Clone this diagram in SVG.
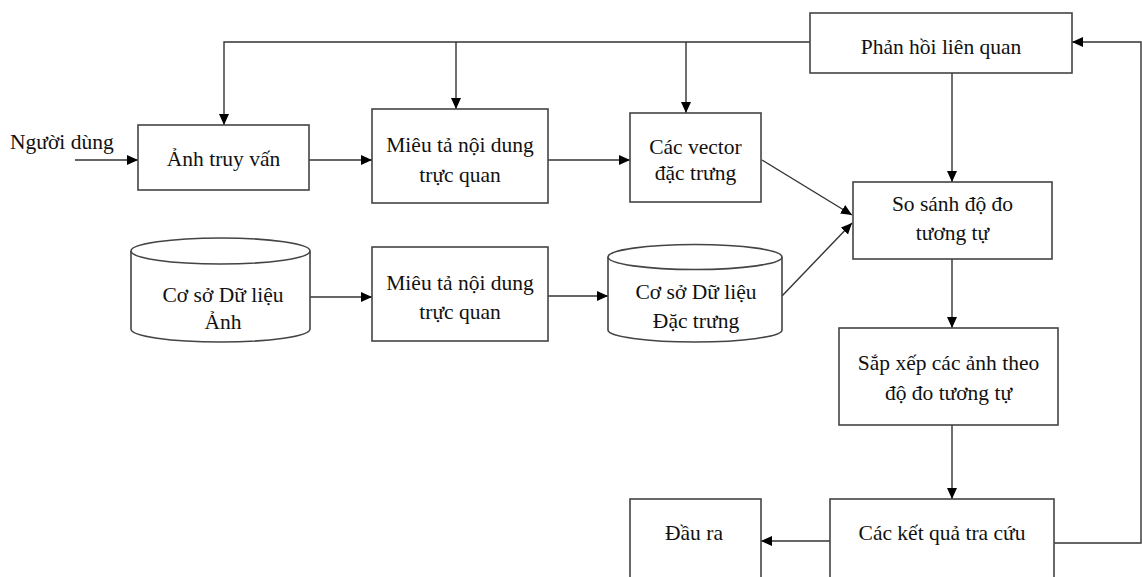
<svg xmlns="http://www.w3.org/2000/svg" width="1142" height="577" viewBox="0 0 1142 577">
<style>
.box{fill:#fff;stroke:#444;stroke-width:1.6}
.cyl{fill:#fff;stroke:#444;stroke-width:1.6}
.t{font-family:"Liberation Serif","Times New Roman",serif;font-size:21.5px;fill:#111;text-anchor:middle}
.tl{font-family:"Liberation Serif","Times New Roman",serif;font-size:21.5px;fill:#111}
.c{fill:none;stroke:#333;stroke-width:1.4}
</style>
<defs>
<marker id="ah" markerUnits="userSpaceOnUse" markerWidth="12" markerHeight="11" refX="11" refY="5" orient="auto">
<path d="M0,0 L11,5 L0,10 z" fill="#000"/>
</marker>
</defs>
<rect width="1142" height="577" fill="#fff"/>
<g id="connectors">
<line class="c" x1="75" y1="160" x2="138" y2="160" marker-end="url(#ah)"/>
<line class="c" x1="309" y1="160" x2="372" y2="160" marker-end="url(#ah)"/>
<line class="c" x1="548" y1="160" x2="630" y2="160" marker-end="url(#ah)"/>
<polyline class="c" points="810,42 224,42 224,125" marker-end="url(#ah)"/>
<line class="c" x1="456" y1="42" x2="456" y2="109" marker-end="url(#ah)"/>
<line class="c" x1="686" y1="42" x2="686" y2="113" marker-end="url(#ah)"/>
<line class="c" x1="952" y1="73" x2="952" y2="182" marker-end="url(#ah)"/>
<line class="c" x1="762" y1="160" x2="852" y2="215" marker-end="url(#ah)"/>
<line class="c" x1="782" y1="296" x2="852" y2="223" marker-end="url(#ah)"/>
<line class="c" x1="310" y1="297" x2="372" y2="297" marker-end="url(#ah)"/>
<line class="c" x1="548" y1="296" x2="608" y2="296" marker-end="url(#ah)"/>
<line class="c" x1="952" y1="259" x2="952" y2="328" marker-end="url(#ah)"/>
<line class="c" x1="952" y1="425" x2="952" y2="499" marker-end="url(#ah)"/>
<line class="c" x1="830" y1="541" x2="761" y2="541" marker-end="url(#ah)"/>
<polyline class="c" points="1054,543 1141,543 1141,42 1072,42" marker-end="url(#ah)"/>
</g>
<g id="nguoi-dung"><text class="tl" x="10" y="149">Người dùng</text></g>
<g id="anh-truy-van"><rect class="box" x="138" y="125" width="171" height="65"/><text class="t" x="223.5" y="166">Ảnh truy vấn</text></g>
<g id="mieu-ta-1"><rect class="box" x="372" y="109" width="176" height="94"/><text class="t" x="460" y="152">Miêu tả nội dung</text><text class="t" x="460" y="182">trực quan</text></g>
<g id="cac-vector"><rect class="box" x="630" y="113" width="131" height="89"/><text class="t" x="695.5" y="154">Các vector</text><text class="t" x="695.5" y="180">đặc trưng</text></g>
<g id="phan-hoi"><rect class="box" x="810" y="13" width="262" height="60"/><text class="t" x="941" y="54">Phản hồi liên quan</text></g>
<g id="so-sanh"><rect class="box" x="853" y="182" width="199" height="77"/><text class="t" x="952.5" y="211">So sánh độ đo</text><text class="t" x="952.5" y="240">tương tự</text></g>
<g id="csdl-anh"><path class="cyl" d="M131,251 L131,329 A89.5,13 0 0 0 310,329 L310,251"/><ellipse class="cyl" cx="220.5" cy="251" rx="89.5" ry="13"/><text class="t" x="223" y="302">Cơ sở Dữ liệu</text><text class="t" x="223" y="329">Ảnh</text></g>
<g id="mieu-ta-2"><rect class="box" x="372" y="247" width="176" height="94"/><text class="t" x="460" y="290">Miêu tả nội dung</text><text class="t" x="460" y="319">trực quan</text></g>
<g id="csdl-dac-trung"><path class="cyl" d="M608,257 L608,330 A87,12 0 0 0 782,330 L782,257"/><ellipse class="cyl" cx="695" cy="257" rx="87" ry="12.5"/><text class="t" x="696" y="299">Cơ sở Dữ liệu</text><text class="t" x="696" y="328">Đặc trưng</text></g>
<g id="sap-xep"><rect class="box" x="839" y="328" width="219" height="97"/><text class="t" x="948.5" y="370">Sắp xếp các ảnh theo</text><text class="t" x="948.5" y="400">độ đo tương tự</text></g>
<g id="ket-qua"><rect class="box" x="830" y="499" width="224" height="110"/><text class="t" x="942" y="540">Các kết quả tra cứu</text></g>
<g id="dau-ra"><rect class="box" x="630" y="499" width="131" height="110"/><text class="t" x="694" y="540">Đầu ra</text></g>
</svg>
